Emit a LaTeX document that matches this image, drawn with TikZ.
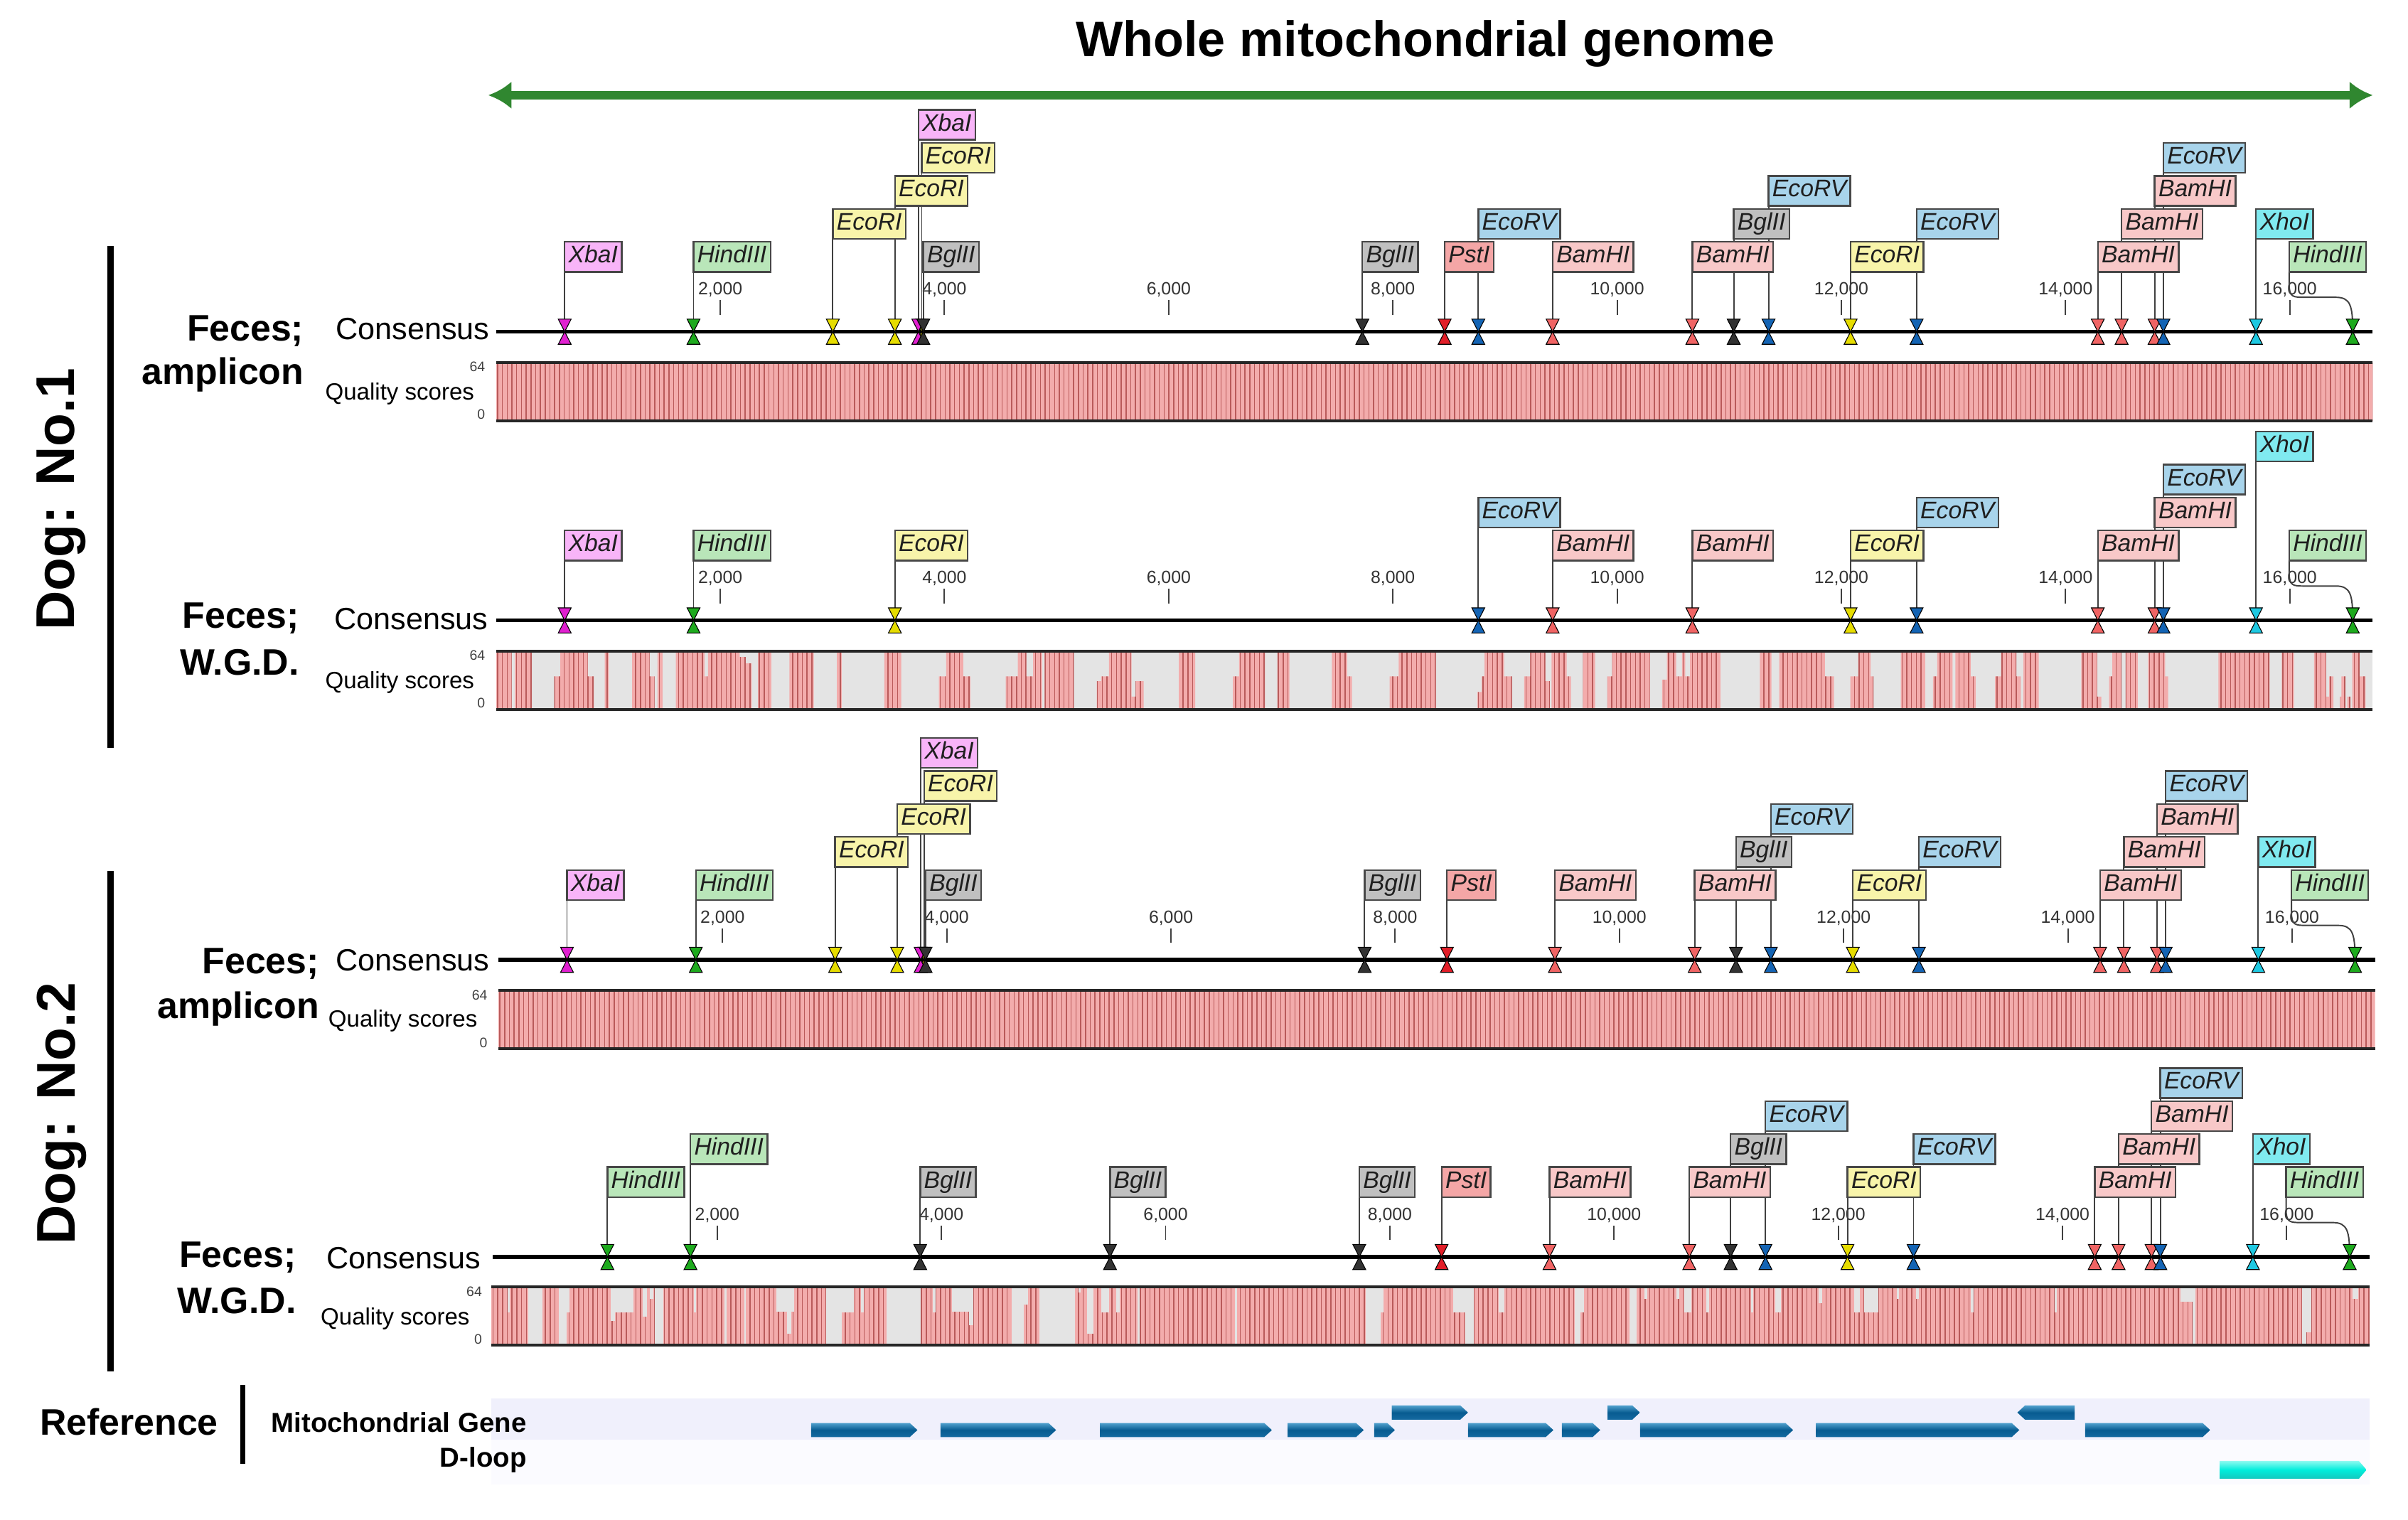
\documentclass[tikz,border=0pt]{standalone}
\usepackage{fontspec}
\setmainfont{Liberation Sans}
\usetikzlibrary{arrows.meta}
\pgfdeclarelayer{bg}
\pgfdeclarelayer{under}
\pgfdeclarelayer{over}
\pgfsetlayers{bg,under,main,over}

\definecolor{garrow}{RGB}{48,135,48}
\definecolor{fXbaI}{RGB}{248,180,248}   \definecolor{mXbaI}{RGB}{224,32,208}
\definecolor{fHindIII}{RGB}{185,230,185}\definecolor{mHindIII}{RGB}{30,170,30}
\definecolor{fEcoRI}{RGB}{248,244,170}  \definecolor{mEcoRI}{RGB}{230,220,0}
\definecolor{fBglII}{RGB}{192,192,192}  \definecolor{mBglII}{RGB}{50,50,50}
\definecolor{fPstI}{RGB}{244,166,166}   \definecolor{mPstI}{RGB}{225,30,40}
\definecolor{fEcoRV}{RGB}{168,212,235}  \definecolor{mEcoRV}{RGB}{20,100,180}
\definecolor{fBamHI}{RGB}{248,200,200}  \definecolor{mBamHI}{RGB}{240,100,100}
\definecolor{fXhoI}{RGB}{128,234,240}   \definecolor{mXhoI}{RGB}{30,200,225}
\definecolor{qpink}{RGB}{243,172,172}
\definecolor{stripec}{RGB}{185,90,90}
\definecolor{qgray}{RGB}{228,228,228}
\definecolor{geneT}{RGB}{80,160,205}
\definecolor{geneM}{RGB}{8,92,145}
\definecolor{geneB}{RGB}{20,105,160}
\definecolor{bandA}{RGB}{240,240,252}
\definecolor{bandB}{RGB}{251,251,255}
\definecolor{dloopT}{RGB}{140,250,240}
\definecolor{dloopM}{RGB}{0,238,220}
\definecolor{dloopB}{RGB}{20,200,190}

\newcommand{\fs}[1]{\fontsize{#1}{#1}\selectfont}
\newcommand{\trkL}{0}
\newcommand{\trkS}{0}

\tikzset{
 enzbox/.style={draw=black!72, line width=1.1pt, inner xsep=2.5pt, inner ysep=0pt, outer sep=0pt,
   minimum height=19.5pt, text height=11.2pt, text depth=3.3pt, font=\fs{15.6}\itshape, text=black!88, anchor=south west},
 conn/.style={draw=black!75, line width=0.9pt},
 mkline/.style={draw=black, line width=0.5pt, line join=miter},
 cons/.style={draw=black, line width=2.6pt},
 tickl/.style={font=\fs{11.5}, text=black!80, inner sep=0pt, anchor=base},
 tickm/.style={draw=black!75, line width=0.9pt},
 qedge/.style={draw=black!85, line width=1.8pt},
 qstripe/.style={draw=stripec, line width=0.7pt},
 bigl/.style={font=\fs{24}\bfseries, inner sep=0pt, anchor=base east},
 midl/.style={font=\fs{20}, inner sep=0pt, anchor=base east},
 qsl/.style={font=\fs{15.3}, inner sep=0pt, anchor=base east},
 tinyl/.style={font=\fs{9}, inner sep=0pt, anchor=base east, text=black!75},
 dogl/.style={font=\fs{35.5}\bfseries, inner sep=0pt, rotate=90},
 refl/.style={font=\fs{17.8}\bfseries, inner sep=0pt, anchor=base east},
 bar/.style={draw=black, line width=4pt},
 gene/.style={top color=geneT, bottom color=geneB, middle color=geneM, draw=none},
}

\newcommand{\mk}[3]{%
  \filldraw[mkline, fill=#3] ({#1-4.2},{#2-8.2}) -- ({#1+4.2},{#2-8.2}) -- ({#1},{#2}) -- cycle;
  \filldraw[mkline, fill=#3] ({#1-4.2},{#2+8.2}) -- ({#1+4.2},{#2+8.2}) -- ({#1},{#2}) -- cycle;}

\newcommand{\enzsite}[4]{%
  \node[enzbox, fill=f#4] (#1) at ({#2+\trkS},{\trkL-39-21.5*(#3-1)}) {#4};
  \coordinate (#1m) at ({#2+\trkS},\trkL);
  \begin{pgfonlayer}{under}\draw[conn] (#1.south west) -- (#1m);\end{pgfonlayer}
  \begin{pgfonlayer}{over}\mk{#2+\trkS}{\trkL}{m#4}\end{pgfonlayer}}

\newcommand{\hindend}[1]{%
  \node[enzbox, fill=fHindIII] (#1) at ({1490.6+\trkS},{\trkL-39}) {HindIII};
  \coordinate (#1m) at ({1532+\trkS},\trkL);
  \begin{pgfonlayer}{under}
  \draw[conn] (#1.south west) -- ({1490.6+\trkS},{\trkL-31})
    .. controls ({1490.6+\trkS},{\trkL-22.4}) and ({1493+\trkS},{\trkL-22.4}) .. ({1501+\trkS},{\trkL-22.4})
    -- ({1521+\trkS},{\trkL-22.4})
    .. controls ({1530.5+\trkS},{\trkL-22.4}) and ({1532+\trkS},{\trkL-17}) .. (#1m);
  \end{pgfonlayer}
  \begin{pgfonlayer}{over}\mk{1532+\trkS}{\trkL}{mHindIII}\end{pgfonlayer}}

\newcommand{\tk}[3]{%
  \node[tickl] (#1t#2) at ({469+146*#2+\trkS},{\trkL-24}) {#3};
  \draw[tickm] ({469+146*#2+\trkS},{\trkL-20.5}) -- ({469+146*#2+\trkS},{\trkL-11});}

\newcommand{\trackframe}[1]{%
  \begin{pgfonlayer}{under}
  \tk{#1}{0}{2,000}\tk{#1}{1}{4,000}\tk{#1}{2}{6,000}\tk{#1}{3}{8,000}
  \tk{#1}{4}{10,000}\tk{#1}{5}{12,000}\tk{#1}{6}{14,000}\tk{#1}{7}{16,000}
  \coordinate (#1c0) at ({323+\trkS},\trkL);
  \coordinate (#1c1) at ({1545+\trkS},\trkL);
  \draw[cons] (#1c0) -- (#1c1);
  \end{pgfonlayer}}

\newcommand{\qualfull}[3]{%
  \begin{scope}
    \clip (#1,#3) rectangle (#2,{#3+38});
    \fill[qpink] (#1,#3) rectangle (#2,{#3+38});
    \foreach \k in {0,...,396} \draw[qstripe] ({#1+1+3.1*\k},#3) -- ({#1+1+3.1*\k},{#3+38});
  \end{scope}}

\newcommand{\qedges}[3]{%
  \draw[qedge] (#1,#3) -- (#2,#3);
  \draw[qedge] (#1,{#3+38}) -- (#2,{#3+38});}

\newcommand{\genR}[3]{\shade[gene] (#1,{#3-4.6}) -- ({#2-5},{#3-4.6}) -- (#2,#3) -- ({#2-5},{#3+4.6}) -- (#1,{#3+4.6}) -- cycle;}
\newcommand{\genL}[3]{\shade[gene] (#1,#3) -- ({#1+5},{#3-4.6}) -- (#2,{#3-4.6}) -- (#2,{#3+4.6}) -- ({#1+5},{#3+4.6}) -- cycle;}

\begin{document}
\begin{tikzpicture}[x=1pt,y=-1pt]
\begin{pgfonlayer}{bg}
\fill[white] (0,0) rectangle (1568,989.4);
\end{pgfonlayer}
\useasboundingbox (0,0) rectangle (1568,989.4);

\node[font=\fs{32.5}\bfseries, inner sep=0pt, anchor=base] (title) at (928,37) {Whole mitochondrial genome};
\coordinate (ga) at (318,62);
\coordinate (gb) at (1545,62);
\draw[garrow, line width=5.6pt, {Latex[length=15pt,width=18pt]}-{Latex[length=15pt,width=18pt]}] (ga) -- (gb);

\node[dogl] (dog1) at (40,325) {Dog: No.1};
\coordinate (b1a) at (72,160); \coordinate (b1b) at (72,487);
\draw[bar] (b1a) -- (b1b);
\node[dogl] (dog2) at (40,725) {Dog: No.2};
\coordinate (b2a) at (72,567); \coordinate (b2b) at (72,893);
\draw[bar] (b2a) -- (b2b);

%================ TRACK 1 =================
\renewcommand{\trkL}{216}\renewcommand{\trkS}{0}
\node[bigl] (t1f) at (198,222) {Feces;};
\node[bigl] (t1a) at (198,250) {amplicon};
\node[midl] (t1c) at (319,221) {Consensus};
\node[qsl] (t1q) at (309,260.5) {Quality scores};
\node[tinyl] (t1h) at (316,242) {64};
\node[tinyl] (t1z) at (316,273) {0};
\qualfull{323}{1545}{236}
\qedges{323}{1545}{236}
\trackframe{a}
\enzsite{a1}{367.7}{1}{XbaI}
\enzsite{a2}{451.6}{1}{HindIII}
\enzsite{a3}{542.3}{2}{EcoRI}
\enzsite{a4}{582.7}{3}{EcoRI}
\enzsite{a5}{600.2}{4}{EcoRI}
\enzsite{a6}{598.0}{5}{XbaI}
\enzsite{a7}{601.2}{1}{BglII}
\enzsite{a8}{887.1}{1}{BglII}
\enzsite{a9}{940.7}{1}{PstI}
\enzsite{a10}{962.6}{2}{EcoRV}
\enzsite{a11}{1011}{1}{BamHI}
\enzsite{a12}{1102}{1}{BamHI}
\enzsite{a13}{1128.9}{2}{BglII}
\enzsite{a14}{1151.6}{3}{EcoRV}
\enzsite{a15}{1205}{1}{EcoRI}
\enzsite{a16}{1248}{2}{EcoRV}
\enzsite{a17}{1366}{1}{BamHI}
\enzsite{a18}{1381.5}{2}{BamHI}
\enzsite{a19}{1403}{3}{BamHI}
\enzsite{a20}{1408.7}{4}{EcoRV}
\enzsite{a21}{1469}{2}{XhoI}
\hindend{a22}

%================ TRACK 2 =================
\renewcommand{\trkL}{404}\renewcommand{\trkS}{0}
\node[bigl] (t2f) at (195,409) {Feces;};
\node[bigl] (t2w) at (195,439.5) {W.G.D.};
\node[midl] (t2c) at (318,410) {Consensus};
\node[qsl] (t2q) at (309,448.5) {Quality scores};
\node[tinyl] (t2h) at (316,430) {64};
\node[tinyl] (t2z) at (316,461) {0};
\fill[qgray] (323,424) rectangle (1545,462);
\begin{scope}
  \clip foreach \xa/\xb/\lv in {323/333.2/0, 335.2/346.3/0, 360.9/364.9/.433, 364.9/382.7/0, 382.7/386.7/.433, 393.8/396.5/0, 411.6/423/0, 423/426.2/.433, 428.2/431.4/0, 440.1/458.7/0, 458.7/461/.433, 461/481.6/0, 481.6/485.6/.1, 485.6/489.5/.21, 493.5/502.2/0, 514/529.9/0, 544.9/548.1/0, 575.8/586.8/0, 611.4/616.1/.433, 616.1/627.2/0, 627.2/631.9/.433, 654.9/662.8/.433, 662.8/668.3/0, 668.3/672.7/.433, 672.7/678.6/0, 680.2/699.2/0, 714.2/717/.514, 717/722.1/.433, 722.1/736.8/0, 736.8/739.5/.78, 739.5/744.7/.514, 767.6/778.3/0, 802.8/806.8/.433, 806.8/823.8/0, 831.7/839.6/0, 867.3/877.2/0, 877.2/880.3/.433, 904.9/910.8/.433, 910.8/935/0, 962/964.8/.7, 964.8/966.7/.433, 966.7/979.4/0, 979.4/984.5/.433, 992.5/996.4/.433, 996.4/1006.3/0, 1006.3/1009.1/.514, 1010.3/1020.2/0, 1020.2/1022.9/.433, 1030.8/1038.7/0, 1046.7/1049.8/.433, 1049.8/1074.3/0, 1082.3/1085.4/.49, 1085.4/1091.4/0, 1091.4/1095.3/.433, 1095.3/1097.3/0, 1097.3/1100.5/.433, 1100.5/1120.2/0, 1146/1153.5/0, 1158.6/1188.3/0, 1188.3/1194.2/.433, 1204.9/1210/.433, 1210/1218/0, 1218/1219.9/.433, 1237.7/1253.6/0, 1258.7/1261.5/.433, 1261.5/1271.4/0, 1273.3/1283.2/0, 1283.2/1286.4/.433, 1299.1/1303/.433, 1303/1312.9/0, 1312.9/1315.7/.433, 1317.6/1327.5/0, 1355.2/1365.5/0, 1365.5/1368.3/.78, 1373.4/1375.4/.433, 1375.4/1381.3/0, 1384.1/1392/0, 1398.7/1409.8/0, 1409.8/1411.8/.433, 1444.6/1477.9/0, 1485.8/1493.7/0, 1506.8/1514.7/0, 1514.7/1516.7/.78, 1516.7/1519.4/.433, 1523.8/1524.6/.78, 1524.6/1527.3/.433, 1528.5/1530.5/.78, 1531.7/1536.4/0, 1536.4/1540.4/.433} {(\xa,{424+38*\lv}) rectangle (\xb,462)};
  \qualfull{323}{1545}{424}
\end{scope}
\qedges{323}{1545}{424}
\trackframe{b}
\enzsite{b1}{367.7}{1}{XbaI}
\enzsite{b2}{451.6}{1}{HindIII}
\enzsite{b3}{582.7}{1}{EcoRI}
\enzsite{b4}{962.6}{2}{EcoRV}
\enzsite{b5}{1011}{1}{BamHI}
\enzsite{b6}{1102}{1}{BamHI}
\enzsite{b7}{1205}{1}{EcoRI}
\enzsite{b8}{1248}{2}{EcoRV}
\enzsite{b9}{1366}{1}{BamHI}
\enzsite{b10}{1403}{2}{BamHI}
\enzsite{b11}{1408.7}{3}{EcoRV}
\enzsite{b12}{1469}{4}{XhoI}
\hindend{b13}

%================ TRACK 3 =================
\renewcommand{\trkL}{625}\renewcommand{\trkS}{1.5}
\node[bigl] (t3f) at (208,634) {Feces;};
\node[bigl] (t3a) at (208,663) {amplicon};
\node[midl] (t3c) at (319,632) {Consensus};
\node[qsl] (t3q) at (311,668.5) {Quality scores};
\node[tinyl] (t3h) at (317.5,651) {64};
\node[tinyl] (t3z) at (317.5,682) {0};
\qualfull{324.5}{1546.5}{645}
\qedges{324.5}{1546.5}{645}
\trackframe{c}
\enzsite{c1}{367.7}{1}{XbaI}
\enzsite{c2}{451.6}{1}{HindIII}
\enzsite{c3}{542.3}{2}{EcoRI}
\enzsite{c4}{582.7}{3}{EcoRI}
\enzsite{c5}{600.2}{4}{EcoRI}
\enzsite{c6}{598.0}{5}{XbaI}
\enzsite{c7}{601.2}{1}{BglII}
\enzsite{c8}{887.1}{1}{BglII}
\enzsite{c9}{940.7}{1}{PstI}
\enzsite{c11}{1011}{1}{BamHI}
\enzsite{c12}{1102}{1}{BamHI}
\enzsite{c13}{1128.9}{2}{BglII}
\enzsite{c14}{1151.6}{3}{EcoRV}
\enzsite{c15}{1205}{1}{EcoRI}
\enzsite{c16}{1248}{2}{EcoRV}
\enzsite{c17}{1366}{1}{BamHI}
\enzsite{c18}{1381.5}{2}{BamHI}
\enzsite{c19}{1403}{3}{BamHI}
\enzsite{c20}{1408.7}{4}{EcoRV}
\enzsite{c21}{1469}{2}{XhoI}
\hindend{c22}

%================ TRACK 4 =================
\renewcommand{\trkL}{818.5}\renewcommand{\trkS}{-2}
\node[bigl] (t4f) at (193,825) {Feces;};
\node[bigl] (t4w) at (193,855.5) {W.G.D.};
\node[midl] (t4c) at (313,826) {Consensus};
\node[qsl] (t4q) at (306,862.5) {Quality scores};
\node[tinyl] (t4h) at (314,844) {64};
\node[tinyl] (t4z) at (314,875) {0};
\qualfull{320}{1543}{838}
\foreach \xa/\xb/\dd in {330.5/332.1/.433, 343.9/353/1, 364.1/368.9/1, 368.9/370.8/.433, 397.7/400.5/.58, 400.5/412.4/.433, 418.3/421.5/.514, 423/425.4/.21, 426.2/432.1/1, 451.9/453.1/.433, 471.7/472.9/1, 484.8/485.6/1, 505.3/512.5/.42, 512.5/515.2/.8, 515.2/517.2/.42, 537.8/548.1/1, 548.1/556/.433, 560.7/562.3/.433, 577.3/599.5/1, 607.4/609/.433, 620/631.1/.42, 631.1/633.9/.65, 658.8/666.7/1, 666.7/669.5/.3, 676.6/700/1, 702.3/703.9/.1, 707.9/711.8/.8, 717/722.1/.433, 727/728.9/.433, 740.7/742/1, 804/805.3/1, 889.1/898.9/1, 898.9/900.9/.433, 946.2/954.1/.433, 954.1/959.6/1, 975.8/979.4/.433, 1025.3/1029.3/1, 1029.3/1031.2/.433, 1060.9/1065.6/1, 1070.8/1072.8/.21, 1091.4/1093.3/.21, 1096.5/1101.3/.433, 1111.1/1113.1/.433, 1140/1141.6/.433, 1155.8/1159.8/.433, 1184.3/1186.7/.28, 1207.3/1211.2/.433, 1214/1223.1/.433, 1235/1236.5/.21, 1247.6/1249.6/.21, 1283.2/1285.2/.433, 1337.8/1339.4/.433, 1419.7/1427.6/.25, 1427.6/1429.6/1, 1498.8/1501.6/1, 1501.6/1504.8/.78, 1531.7/1535.6/.21}
  {\fill[qgray] (\xa,838) rectangle (\xb,{838+38*\dd});}
\qedges{320}{1543}{838}
\trackframe{d}
\enzsite{d1}{397.5}{1}{HindIII}
\enzsite{d2}{451.6}{2}{HindIII}
\enzsite{d3}{601.2}{1}{BglII}
\enzsite{d4}{724.8}{1}{BglII}
\enzsite{d5}{887.1}{1}{BglII}
\enzsite{d6}{940.7}{1}{PstI}
\enzsite{d7}{1011}{1}{BamHI}
\enzsite{d8}{1102}{1}{BamHI}
\enzsite{d9}{1128.9}{2}{BglII}
\enzsite{d10}{1151.6}{3}{EcoRV}
\enzsite{d11}{1205}{1}{EcoRI}
\enzsite{d12}{1248}{2}{EcoRV}
\enzsite{d13}{1366}{1}{BamHI}
\enzsite{d14}{1381.5}{2}{BamHI}
\enzsite{d15}{1403}{3}{BamHI}
\enzsite{d16}{1408.7}{4}{EcoRV}
\enzsite{d17}{1469}{2}{XhoI}
\hindend{d18}

%================ REFERENCE =================
\fill[bandA] (320,910.4) rectangle (1543,937.4);
\fill[bandB] (320,937.4) rectangle (1543,966.7);
\node[font=\fs{24}\bfseries, inner sep=0pt, anchor=base] (ref) at (84,934.5) {Reference};
\coordinate (r1) at (158,902); \coordinate (r2) at (158,953);
\draw[draw=black, line width=3.5pt] (r1) -- (r2);
\node[refl] (mg) at (343,932.5) {Mitochondrial Gene};
\node[refl] (dl) at (343,955.5) {D-loop};
\genR{528.2}{597.4}{931.2}
\genR{612.4}{687.7}{931.2}
\genR{716.2}{828.2}{931.2}
\genR{838.4}{888}{931.2}
\genR{894.8}{908.3}{931.2}
\genR{955.9}{1011.5}{931.2}
\genR{1017}{1042}{931.2}
\genR{1067.9}{1167.6}{931.2}
\genR{1182.6}{1314.9}{931.2}
\genR{1357.7}{1439.2}{931.2}
\genR{906.3}{955.9}{919.8}
\genR{1046.8}{1067.9}{919.8}
\genL{1313.6}{1350.9}{919.8}
\shade[top color=dloopT, bottom color=dloopB, middle color=dloopM] (1445.3,951.3) -- (1536,951.3) -- (1541,957.1) -- (1536,962.9) -- (1445.3,962.9) -- cycle;
\end{tikzpicture}
\end{document}
